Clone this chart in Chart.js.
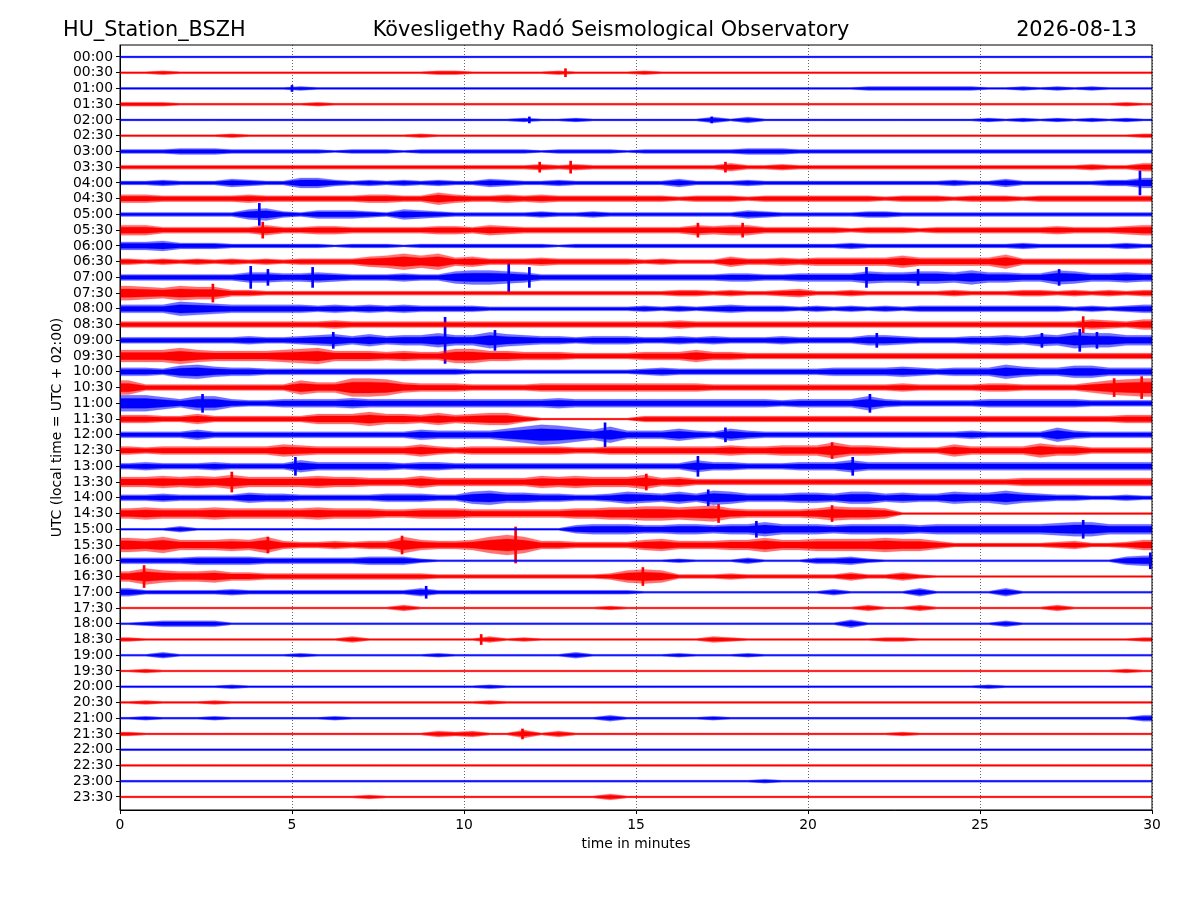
<!DOCTYPE html>
<html>
<head>
<meta charset="utf-8">
<title>HU_Station_BSZH helicorder</title>
<script src="https://cdn.jsdelivr.net/npm/chart.js@4.4.1/dist/chart.umd.min.js"></script>
<style>
  html, body { margin: 0; padding: 0; background: #fff; }
</style>
</head>
<body>
<canvas id="heli" width="1200" height="900"></canvas>
<script>
const stationName = 'HU_Station_BSZH';
const observatory = 'Kövesligethy Radó Seismological Observatory';
const dayLabel = '2026-08-13';

const rowLabels = [
    '00:00', '00:30', '01:00', '01:30', '02:00', '02:30', '03:00', '03:30',
    '04:00', '04:30', '05:00', '05:30', '06:00', '06:30', '07:00', '07:30',
    '08:00', '08:30', '09:00', '09:30', '10:00', '10:30', '11:00', '11:30',
    '12:00', '12:30', '13:00', '13:30', '14:00', '14:30', '15:00', '15:30',
    '16:00', '16:30', '17:00', '17:30', '18:00', '18:30', '19:00', '19:30',
    '20:00', '20:30', '21:00', '21:30', '22:00', '22:30', '23:00', '23:30'
];
const traceColors = ['#0000ff', '#ff0000'];
const traceHalo = ['rgba(0,0,255,0.55)', 'rgba(255,0,0,0.55)'];
const xTicks = [0, 5, 10, 15, 20, 25, 30];

// half amplitude of each line per half minute, one base-36 digit each
// (groups of ten = five minutes)
const envelope = [
    '1111111111 1111111111 1111111111 1111111111 1111111111 1111111111',
    '1121111111 1111111122 1111121111 2111111111 1111111111 1111111111',
    '1111111111 2111111111 1111111111 1111111111 1112222222 1121212111',
    '2221111111 1211111111 1111111111 1111111111 1111111111 1111111121',
    '1111111111 1111111111 1112112111 1111313111 1111111111 2121212121',
    '1111112111 1111111211 1111111111 1111111111 1111111111 1111111112',
    '2223332222 2212221222 2222122221 2222223332 2222222222 2222222222',
    '2222222222 2222222222 2222323222 2222242232 2222222222 2222223224',
    '2232224322 5532323232 2432232222 2242223222 2222222232 2422222335',
    '4433333433 3333443364 3343433333 3323332333 3333233323 3323333333',
    '2222222563 2444325432 2222322322 2222224322 2223322222 2222222222',
    '5533333353 3443333344 3543333333 3335455333 3323332333 3333433345',
    '4453332222 2212221222 2222212222 2222222222 2232222222 2232222232',
    '3232323232 3333568684 5333433333 2322253343 4444464444 4733333333',
    '3333333554 4543334336 7765333333 3333344334 4446556657 5544764454',
    '7657663322 2222222222 2222222222 2233232234 2232222232 2233232323',
    '4447654444 4343434333 3222222222 3232343332 3232323333 3333323234',
    '3333333333 3343333333 3333333333 3343333333 3333333333 3333335435',
    '3333333433 4564645575 5865443444 3343433343 3335543334 4546587755',
    '6668655556 7855545447 7554443333 4446443333 3333333333 3333333333',
    '4436754433 3333333333 2222222222 3433333333 3444454344 4754466444',
    '7333333333 7559985444 3333444444 4444333333 3333343333 4433335789',
    '8864774334 4445444444 4444454444 4444444434 4447433333 4444443333',
    '4433533333 3555755464 5663111111 3333333333 3333333333 3333333344',
    '3333533333 3333333544 4468a97584 4464364333 3333333334 3333743333',
    '4344444446 5444444643 4444443344 4444454455 5855433364 4447553333',
    '3433343333 6444443443 3333333333 3336443334 4464444444 4444444444',
    '5565657555 5655444644 4444656555 7453333333 3333333333 3344444444',
    '3343333544 3333344433 6755443346 5464764445 5466454465 5754332232',
    '5655565555 5655544555 4444445566 7767854444 5766511111 1111111111',
    '1113111111 1111111111 1111114555 4455455755 5455554555 5555677555',
    '7685556584 3343448544 58a8443333 5644455755 6666766422 2222342235',
    '3333444433 3333444211 1111111111 1121113111 3342111111 1111111145',
    '5865564433 3333333322 2222222236 7622232222 2242242111 1111111111',
    '4222223222 2222222422 2222222222 1111111111 1311114111 1411111111',
    '1111111111 1111113111 1111111121 1111111111 1113113111 1111311111',
    '1233331111 1111111111 1111111111 1111111111 1141111111 1311111111',
    '2111111111 1113111111 1312111111 1111321111 1111221111 1111111112',
    '1131111111 2111111121 1111113111 1121112111 1111111111 1111111111',
    '1211111111 1111111111 1111111111 1111111111 1111111111 1111111121',
    '1111112111 1111111111 1211111111 1111111111 1111111111 2111111111',
    '1211121111 1111111111 1211111111 1111111111 1111111111 1111111111',
    '1211121111 1121111111 1111111131 1111211111 1111111111 1111111113',
    '2111111111 1111111132 3114131111 1111111111 1111121111 1111111111',
    '1111111111 1111111111 1111111111 1111111111 1111111111 1111111111',
    '1111111111 1111111111 1111111111 1111111111 1111111111 1111111111',
    '1111111111 1111111111 1111111111 1111111211 1111111111 1111111111',
    '1111111111 1111211111 1111111131 1111111111 1111111111 1111111111'
];

// short, sharp arrivals that stick out of a line
const spikeRow = [1, 2, 4, 4, 7, 7, 7, 8, 10, 11, 11, 11, 14, 14, 14, 14, 14, 14, 14, 14,
    15, 17, 18, 18, 18, 18, 18, 18, 18, 21, 21, 22, 22, 24, 24, 25, 26, 26, 26, 27, 27,
    28, 29, 29, 30, 30, 31, 31, 31, 32, 33, 33, 34, 37, 43];
const spikeMinute = [12.95, 5.0, 11.9, 17.2, 12.2, 13.1, 17.6, 29.65, 4.05, 4.15, 16.8, 18.1,
    3.8, 4.3, 5.6, 11.3, 11.9, 21.7, 23.2, 27.3,
    2.7, 28.0, 6.2, 9.45, 10.9, 22.0, 26.8, 27.9, 28.4, 29.7, 28.9, 2.4, 21.8, 14.1, 17.6,
    20.7, 5.1, 16.8, 21.3, 3.25, 15.3, 17.1, 17.4, 20.7, 18.5, 28.0, 11.5, 8.2, 4.3, 29.95,
    0.7, 15.2, 8.9, 10.5, 11.7];
const spikeAmp = [4, 3, 3, 3, 5, 6, 5, 12, 11, 8, 7, 7, 11, 8, 10, 15, 10, 10, 8, 8,
    9, 8, 8, 23, 10, 7, 7, 11, 8, 11, 9, 9, 9, 12, 7, 8, 9, 10, 9, 10, 8, 8, 9, 8, 8, 9,
    18, 9, 8, 8, 11, 9, 6, 5, 5];

const UNIT = 1 / 15.74; // one amplitude step as a share of the line spacing
const CORE = 0.6;       // solid core of a line, share of its full swing

function band(points, row, scale, fillColor) {
    return [{
        data: points.map(p => ({ x: p[0], y: row - p[1] * UNIT * scale })),
        borderColor: fillColor,
        borderWidth: 0.3,
        pointRadius: 0,
        fill: false
    }, {
        data: points.map(p => ({ x: p[0], y: row + p[1] * UNIT * scale })),
        borderColor: fillColor,
        borderWidth: 0.3,
        backgroundColor: fillColor,
        pointRadius: 0,
        fill: '-1'
    }];
}

function buildDatasets() {
    const datasets = [];
    envelope.forEach((row, i) => {
        const levels = row.replace(/ /g, '').split('').map(c => parseInt(c, 36));
        const pts = [[0, levels[0]]];
        levels.forEach((v, k) => pts.push([k * 0.5 + 0.25, v]));
        pts.push([30, levels[levels.length - 1]]);
        const c = i % 2;
        datasets.push(...band(pts, i, 1, traceHalo[c]));
        datasets.push(...band(pts, i, CORE, traceColors[c]));
    });

    traceColors.forEach((color, c) => {
        const bars = [];
        spikeRow.forEach((r, k) => {
            if (r % 2 !== c) return;
            bars.push({ x: spikeMinute[k], y: [r - spikeAmp[k] * UNIT, r + spikeAmp[k] * UNIT] });
        });
        datasets.push({
            type: 'bar',
            data: bars,
            backgroundColor: color,
            borderWidth: 0,
            barThickness: 2,
            grouped: false
        });
    });
    return datasets;
}

const frameAndHeader = {
    id: 'frameAndHeader',
    afterDraw(chart) {
        const { ctx, chartArea: a } = chart;
        ctx.save();
        ctx.strokeStyle = '#000';
        ctx.lineWidth = 1;
        ctx.strokeRect(a.left, a.top, a.right - a.left, a.bottom - a.top);
        ctx.fillStyle = '#000';
        ctx.font = '20.8px "DejaVu Sans"';
        ctx.textBaseline = 'alphabetic';
        ctx.textAlign = 'left';
        ctx.fillText(stationName, 63, 36);
        ctx.textAlign = 'center';
        ctx.fillText(observatory, 611, 36);
        ctx.textAlign = 'right';
        ctx.fillText(dayLabel, 1137, 36);
        ctx.restore();
    }
};

const tickFont = { family: 'DejaVu Sans', size: 13.9 };

new Chart(document.getElementById('heli').getContext('2d'), {
    type: 'line',
    data: { datasets: buildDatasets() },
    options: {
        responsive: false,
        devicePixelRatio: 1,
        animation: false,
        events: [],
        elements: { line: { tension: 0 } },
        layout: { padding: { top: 45, right: 48, left: 0, bottom: 0 } },
        plugins: { legend: { display: false }, tooltip: { enabled: false } },
        scales: {
            x: {
                type: 'linear',
                min: 0,
                max: 30,
                offset: false,
                afterBuildTicks: s => { s.ticks = xTicks.map(v => ({ value: v })); },
                afterFit: s => { s.height = 90; },
                ticks: { color: '#000', font: tickFont, padding: 3, maxRotation: 0 },
                grid: {
                    offset: false,
                    color: 'rgba(0,0,0,0.75)',
                    lineWidth: 0.8,
                    tickLength: 4,
                    tickColor: '#000',
                    tickWidth: 1,
                    tickBorderDash: []
                },
                border: { display: true, color: '#000', width: 1, dash: [1, 2] },
                title: {
                    display: true,
                    text: 'time in minutes',
                    color: '#000',
                    font: tickFont,
                    padding: { top: 0, bottom: 47 }
                }
            },
            y: {
                type: 'linear',
                reverse: true,
                min: -0.76,
                max: 47.83,
                beginAtZero: false,
                afterBuildTicks: s => { s.ticks = rowLabels.map((_, i) => ({ value: i })); },
                afterFit: s => { s.width = 120; },
                ticks: {
                    color: '#000',
                    font: tickFont,
                    padding: 3,
                    autoSkip: false,
                    callback: v => rowLabels[v]
                },
                grid: { drawOnChartArea: false, tickLength: 4, color: '#000', tickWidth: 1 },
                border: { display: true, color: '#000', width: 1 },
                title: {
                    display: true,
                    text: 'UTC (local time = UTC + 02:00)',
                    color: '#000',
                    font: tickFont,
                    padding: { top: 49, bottom: 0 }
                }
            }
        }
    },
    plugins: [frameAndHeader]
});
</script>
</body>
</html>
